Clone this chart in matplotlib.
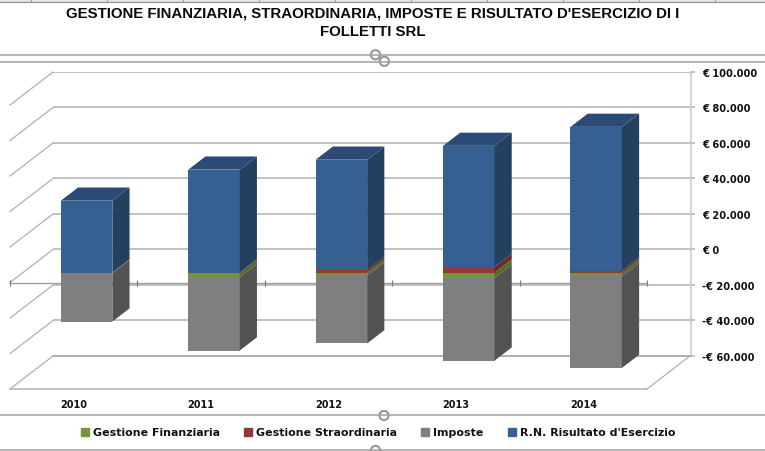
import matplotlib
matplotlib.use("Agg")
import matplotlib.pyplot as plt
from matplotlib.patches import Circle, Patch
from matplotlib.ticker import FuncFormatter

# chart values
years = ["2010", "2011", "2012", "2013", "2014"]
gestFinanziaria = [-300, -2600, -1700, -3000, -2100]
gestStraordinaria = [0, 0, 1400, 3200, 1100]
imposte = [-27300, -41300, -38200, -46600, -51600]
risultato = [40500, 58000, 62200, 68200, 81000]

seriesNames = ["Gestione Finanziaria", "Gestione Straordinaria", "Imposte", "R.N. Risultato d'Esercizio"]
yTicks = [-60000, -40000, -20000, 0, 20000, 40000, 60000, 80000, 100000]

# front, side, top colours of each series
GREEN = ("#77933c", "#566b2b", "#64792f")
RED = ("#953735", "#6e2826", "#7d2e2c")
GREY = ("#7f7f7f", "#525252", "#696969")
BLUE = ("#376092", "#24405f", "#2b4a75")
GRID = "#b0b0b0"
LABEL_FONT = "DejaVu Sans"

W, H = 765, 452
# floor and back wall in pixels
frontLeft, frontRight, frontBottom, frontTop = 10, 647, 390, 106
backLeft, backRight, backBottom, backTop = 53, 691, 356.7, 72.7

# depth of the 3D box, in data units of the front plane
depthX = 43 / ((frontRight - frontLeft) / len(years))
depthY = 33 / ((frontBottom - frontTop) / 160000)
barWidth = 0.404
barStart = 0.30  # share of the depth in front of the bars
barDepth = 0.40  # share of the depth taken by the bars


def axesAt(left, right, bottom, top):
    return fig.add_axes([left / W, 1 - bottom / H, (right - left) / W, (bottom - top) / H])


def euro(value, pos=None):
    text = f"{abs(value):,.0f}".replace(",", ".")
    return f"-€ {text}" if value < 0 else f"€ {text}"


def drawSegment(ax, i, low, high, colors, isTop=False):
    # one stacked piece: front face, side face and maybe the top face
    x0 = i + 0.5 - barWidth / 2 + barStart * depthX
    x1 = x0 + barWidth
    low = low + barStart * depthY
    high = high + barStart * depthY
    dx = barDepth * depthX
    dy = barDepth * depthY
    ax.fill([x0, x1, x1, x0], [low, low, high, high], color=colors[0], lw=0, zorder=4, clip_on=False)
    ax.fill([x1, x1 + dx, x1 + dx, x1], [low, low + dy, high + dy, high], color=colors[1], lw=0, zorder=4, clip_on=False)
    if isTop:
        ax.fill([x0, x1, x1 + dx, x0 + dx], [high, high, high + dy, high + dy], color=colors[2], lw=0, zorder=4, clip_on=False)


fig = plt.figure(figsize=(W / 100, H / 100), dpi=100)

# back wall carries the value axis and the grid
back = axesAt(backLeft, backRight, backBottom, backTop)
back.set_xlim(0, 1)
back.set_ylim(yTicks[0], yTicks[-1])
back.set_yticks(yTicks)
back.yaxis.set_major_formatter(FuncFormatter(euro))
back.yaxis.tick_right()
back.set_xticks([])
back.tick_params(axis="y", length=3, width=1.1, color=GRID, pad=5, labelsize=7.1, labelcolor="#111111")
for label in back.get_yticklabels():
    label.set_fontweight("bold")
    label.set_family(LABEL_FONT)
back.grid(axis="y", color=GRID, lw=1.1)
for side in ["left", "top"]:
    back.spines[side].set_visible(False)
back.spines["right"].set_color("#c8c8c8")
back.spines["right"].set_linewidth(1.1)
back.spines["bottom"].set_color(GRID)
back.spines["bottom"].set_linewidth(1.4)

# front plane holds the bars, the floor and the category axis
ax = axesAt(frontLeft, frontRight, frontBottom, frontTop)
ax.patch.set_alpha(0)
ax.set_xlim(0, len(years))
ax.set_ylim(yTicks[0], yTicks[-1])
ax.set_yticks([])
ax.set_xticks([i + 0.5 for i in range(len(years))], years)
ax.tick_params(axis="x", length=0, pad=7, labelsize=7, labelcolor="#111111")
for label in ax.get_xticklabels():
    label.set_fontweight("bold")
    label.set_family(LABEL_FONT)
for side in ["left", "top", "right"]:
    ax.spines[side].set_visible(False)
ax.spines["bottom"].set_color(GRID)
ax.spines["bottom"].set_linewidth(1.1)

# side wall and floor diagonals
for v in yTicks:
    ax.plot([0, depthX], [v, v + depthY], color=GRID, lw=0.9, clip_on=False, zorder=2)
ax.plot([len(years), len(years) + depthX], [yTicks[0], yTicks[0] + depthY], color=GRID, lw=0.9, clip_on=False, zorder=2)

# line of the category axis at zero, with its ticks
ax.axhline(0, color="#a0a0a0", lw=1, zorder=3)
ax.plot(range(len(years) + 1), [0] * (len(years) + 1), "|", color="#777777", ms=4, mew=0.8, clip_on=False, zorder=3)

for i in range(len(years)):
    # negatives stack down from zero, positives up
    bottomNeg = 0
    for value, colors in [(gestFinanziaria[i], GREEN), (imposte[i], GREY)]:
        drawSegment(ax, i, bottomNeg + value, bottomNeg, colors)
        bottomNeg += value
    bottomPos = 0
    for value, colors in [(gestStraordinaria[i], RED), (risultato[i], BLUE)]:
        if value > 0:
            drawSegment(ax, i, bottomPos, bottomPos + value, colors, isTop=colors is BLUE)
            bottomPos += value

# title
fig.text(373 / W, 1 - 13.5 / H, "GESTIONE FINANZIARIA, STRAORDINARIA, IMPOSTE E RISULTATO D'ESERCIZIO DI I",
         family="Liberation Sans", weight="bold", size=10.8, ha="center", va="center", color="#0a0a0a")
fig.text(373 / W, 1 - 32.5 / H, "FOLLETTI SRL",
         family="Liberation Sans", weight="bold", size=10.8, ha="center", va="center", color="#0a0a0a")

# legend
handles = [Patch(color=c[0]) for c in (GREEN, RED, GREY, BLUE)]
fig.legend(handles, seriesNames, ncol=4, frameon=False, loc="center", bbox_to_anchor=(378 / W, 1 - 433.5 / H),
           prop={"size": 7.9, "weight": "bold", "family": LABEL_FONT}, handlelength=0.75, handleheight=0.75,
           handletextpad=0.35, columnspacing=2.2, labelcolor="#111111")

# selection frame of the spreadsheet around title, plot and legend
over = fig.add_axes([0, 0, 1, 1], zorder=5)
over.set_xlim(0, W)
over.set_ylim(H, 0)
over.axis("off")
for y in [55.5, 62.5, 415.5, 451]:
    over.plot([0, W], [y, y], color="#a0a0a0", lw=1.1, clip_on=False)
for cx, cy in [(375.5, 55.7), (384.3, 62.3), (384, 416.5), (375.5, 451.5)]:
    over.add_patch(Circle((cx, cy), 4.6, fc="white", ec="#979797", lw=1.5))

# grid strip of the sheet at the very top
over.fill_between([0, W], 0, 3, color="#e4e4e4", lw=0)
over.plot([0, W], [3, 3], color="#8f8f8f", lw=0.8)
over.vlines(range(31, W, 76), 0, 3, color="#9a9a9a", lw=0.8)

fig.savefig("out.png", dpi=100)
plt.close("all")
